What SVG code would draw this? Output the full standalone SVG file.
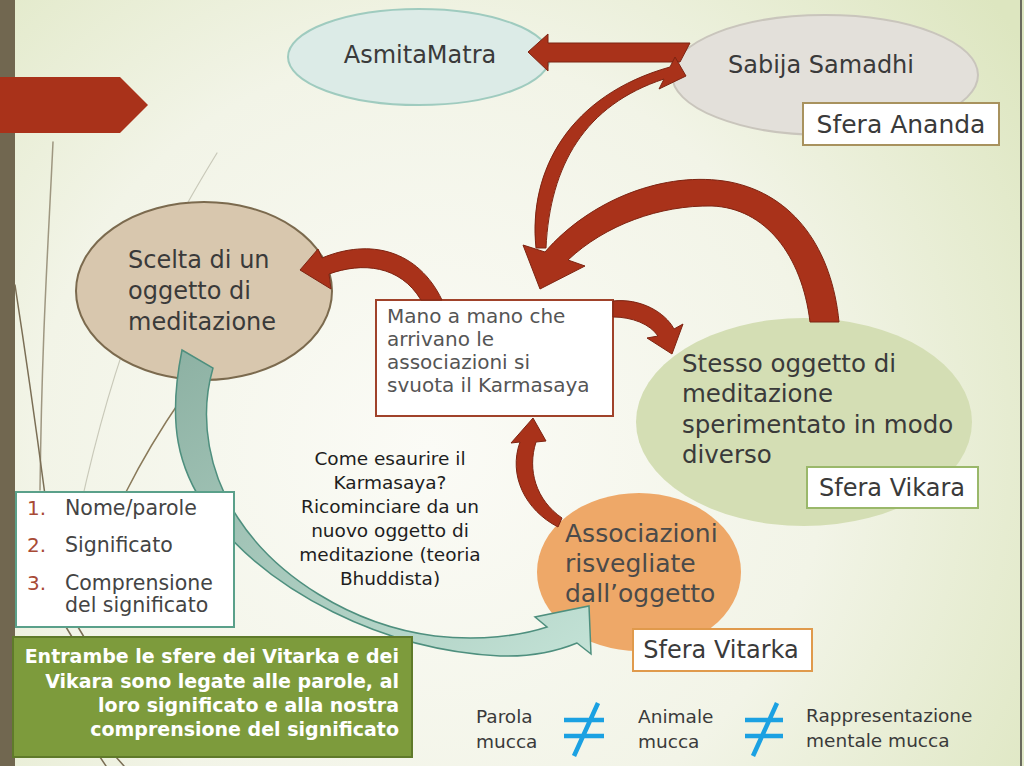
<svg xmlns="http://www.w3.org/2000/svg" width="1024" height="766" viewBox="0 0 1024 766">
<defs>
<radialGradient id="bg" cx="430" cy="450" r="720" gradientUnits="userSpaceOnUse">
<stop offset="0" stop-color="#fbfbf6"/>
<stop offset="0.55" stop-color="#f2f4e7"/>
<stop offset="1" stop-color="#dde6c0"/>
</radialGradient>
<linearGradient id="teal" x1="0" y1="0" x2="1" y2="1">
<stop offset="0" stop-color="#8db1a3"/>
<stop offset="1" stop-color="#c3e2d6"/>
</linearGradient>
<style>
text{font-family:"DejaVu Sans","Liberation Sans",sans-serif;fill:#3a3a3a}
.red{fill:#a9321a;stroke:#7d2412;stroke-width:1}
.deco{fill:none;stroke-linecap:round}
.lbl{fill:#ffffff;stroke-width:2}
.big{font-size:24px}
.mid{font-size:20px}
.sm{font-size:18.5px}
.num{fill:#a84a35}
.bold{font-weight:bold;fill:#ffffff;font-size:19px}
.neq{stroke:#1ba1e2;stroke-width:4.5;stroke-linecap:butt;fill:none}
</style>
</defs>

<rect width="1024" height="766" fill="url(#bg)"/>
<rect x="0" y="0" width="15" height="766" fill="#716750"/>
<rect x="1020" y="0" width="2" height="766" fill="#6a6a5e"/>
<polygon points="0,77 120,77 148,105 120,133 0,133" fill="#a9321a"/>

<g id="decor">
<path class="deco" d="M53,142 C48,250 42,330 40,490" stroke="#8a8068" stroke-width="1.5" opacity="0.8"/>
<path class="deco" d="M217,153 C170,230 110,330 62,600" stroke="#c9c9b9" stroke-width="1.2"/>
<path class="deco" d="M15,285 C25,350 35,420 45,495" stroke="#7a6e55" stroke-width="1.5"/>
<path class="deco" d="M182,398 C160,430 142,460 126,492" stroke="#8a7a5a" stroke-width="1.5"/>
<path class="deco" d="M66,627 L72,637 M78,627 L84,637" stroke="#7a6e55" stroke-width="1.5"/>
<path class="deco" d="M100,757 L106,766 M116,757 L124,766" stroke="#7a6e55" stroke-width="1.5"/>
</g>

<g id="node-scelta">
<ellipse cx="204" cy="291" rx="128" ry="89" fill="#d8c7ae" stroke="#7b6a4e" stroke-width="2"/>
<text class="big" x="128" y="268">Scelta di un</text>
<text class="big" x="128" y="299">oggetto di</text>
<text class="big" x="128" y="330">meditazione</text>
</g>

<g id="node-asmita">
<ellipse cx="419" cy="57" rx="131" ry="48" fill="#dcebe7" stroke="#9fcbbf" stroke-width="2"/>
<text class="big" x="420" y="63" text-anchor="middle">AsmitaMatra</text>
</g>

<g id="node-sabija">
<ellipse cx="825" cy="75" rx="153" ry="60" fill="#e3e0da" stroke="#c9c5bc" stroke-width="2"/>
<text class="big" x="821" y="73" text-anchor="middle">Sabija Samadhi</text>
<rect class="lbl" x="803" y="103" width="196" height="42" stroke="#a8925e"/>
<text x="901" y="133" text-anchor="middle" style="font-size:25px">Sfera Ananda</text>
</g>

<g id="node-stesso">
<ellipse cx="804" cy="422" rx="168" ry="104" fill="#d4deb4"/>
<text x="682" y="372" style="font-size:24.5px">Stesso oggetto di</text>
<text x="682" y="402" style="font-size:24.5px">meditazione</text>
<text x="682" y="433" style="font-size:24.5px">sperimentato in modo</text>
<text x="682" y="463" style="font-size:24.5px">diverso</text>
<rect class="lbl" x="807" y="467" width="171" height="41" stroke="#9ab86a"/>
<text class="big" x="892" y="496" text-anchor="middle">Sfera Vikara</text>
</g>

<g id="node-associazioni">
<ellipse cx="639" cy="572" rx="102" ry="79" fill="#eea868"/>
<text x="565" y="542" style="font-size:25px;fill:#4a4a4a">Associazioni</text>
<text x="565" y="572" style="font-size:25px;fill:#4a4a4a">risvegliate</text>
<text x="565" y="602" style="font-size:25px;fill:#4a4a4a">dall’oggetto</text>
<rect class="lbl" x="633" y="629" width="179" height="42" stroke="#e09a4c"/>
<text class="big" x="721" y="658" text-anchor="middle">Sfera Vitarka</text>
</g>

<g id="node-karmasaya">
<rect x="376" y="300" width="237" height="116" fill="#ffffff" stroke="#a0422a" stroke-width="2"/>
<text class="mid" x="387" y="323" style="fill:#555">Mano a mano che</text>
<text class="mid" x="387" y="346" style="fill:#555">arrivano le</text>
<text class="mid" x="387" y="369" style="fill:#555">associazioni si</text>
<text class="mid" x="387" y="392" style="fill:#555">svuota il Karmasaya</text>
</g>

<g id="connectors">
<path d="M182,350 C168,420 175,470 215,520 C270,590 380,650 500,656 C535,657 560,650 577,643 L591,654 L589,606 L535,617 L547,627 C520,636 480,641 435,636 C350,625 275,575 238,518 C210,475 198,420 213,368 Z" fill="url(#teal)" stroke="#4e8f7e" stroke-width="1.5"/>
<path class="red" d="M690,43 L548,43 L548,34 L528,52 L548,71 L548,62 L680,62 Z"/>
<path class="red" d="M536,248 C528,170 570,95 670,67 L675,57 L686,76 L659,89 L664,79 C585,105 550,165 546,248 Z"/>
<path class="red" d="M839,322 C832,250 795,195 730,182 C665,170 590,200 545,252 L523,245 L540,289 L585,266 L568,260 C605,225 660,205 712,206 C765,208 802,255 810,322 Z"/>
<path class="red" d="M421,300 C400,265 362,262 329,274 L331,289 L300,270 L318,249 L322,258 C370,238 418,250 442,300 Z"/>
<path class="red" d="M613,301 C640,298 665,312 674,329 L683,324 L672,354 L647,338 L658,336 C650,324 632,317 613,317 Z"/>
<path class="red" d="M558,527 C525,510 508,475 520,442 L511,443 L533,418 L546,441 L536,442 C527,470 536,500 562,518 Z"/>
</g>

<g id="note-come">
<text class="sm" x="390" y="465" text-anchor="middle" style="fill:#1e1e1e">Come esaurire il</text>
<text class="sm" x="390" y="489" text-anchor="middle" style="fill:#1e1e1e">Karmasaya?</text>
<text class="sm" x="390" y="513" text-anchor="middle" style="fill:#1e1e1e">Ricominciare da un</text>
<text class="sm" x="390" y="537" text-anchor="middle" style="fill:#1e1e1e">nuovo oggetto di</text>
<text class="sm" x="390" y="561" text-anchor="middle" style="fill:#1e1e1e">meditazione (teoria</text>
<text class="sm" x="390" y="585" text-anchor="middle" style="fill:#1e1e1e">Bhuddista)</text>
</g>

<g id="node-list">
<rect x="16" y="492" width="218" height="135" fill="#ffffff" stroke="#5aa08a" stroke-width="2"/>
<text class="num" x="27" y="515" style="font-size:20px">1.</text>
<text x="65" y="515" style="font-size:20.5px;fill:#444">Nome/parole</text>
<text class="num" x="27" y="552" style="font-size:20px">2.</text>
<text x="65" y="552" style="font-size:20.5px;fill:#444">Significato</text>
<text class="num" x="27" y="590" style="font-size:20px">3.</text>
<text x="65" y="590" style="font-size:20.5px;fill:#444">Comprensione</text>
<text x="65" y="612" style="font-size:20.5px;fill:#444">del significato</text>
</g>

<g id="node-green">
<rect x="13" y="637" width="399" height="120" fill="#7d9b3c" stroke="#5f7a2a" stroke-width="2"/>
<text class="bold" x="399" y="663" text-anchor="end">Entrambe le sfere dei Vitarka e dei</text>
<text class="bold" x="399" y="688" text-anchor="end">Vikara sono legate alle parole, al</text>
<text class="bold" x="399" y="712" text-anchor="end">loro significato e alla nostra</text>
<text class="bold" x="399" y="736" text-anchor="end">comprensione del significato</text>
</g>

<g id="legend">
<text class="sm" x="476" y="723">Parola</text>
<text class="sm" x="476" y="748">mucca</text>
<path class="neq" d="M564,720 L604,720 M564,736 L604,736 M598,703 L574,756"/>
<text class="sm" x="638" y="723">Animale</text>
<text class="sm" x="638" y="748">mucca</text>
<path class="neq" d="M745,720 L783,720 M745,736 L783,736 M777,703 L753,756"/>
<text class="sm" x="806" y="722">Rappresentazione</text>
<text class="sm" x="806" y="747">mentale mucca</text>
</g>
</svg>
